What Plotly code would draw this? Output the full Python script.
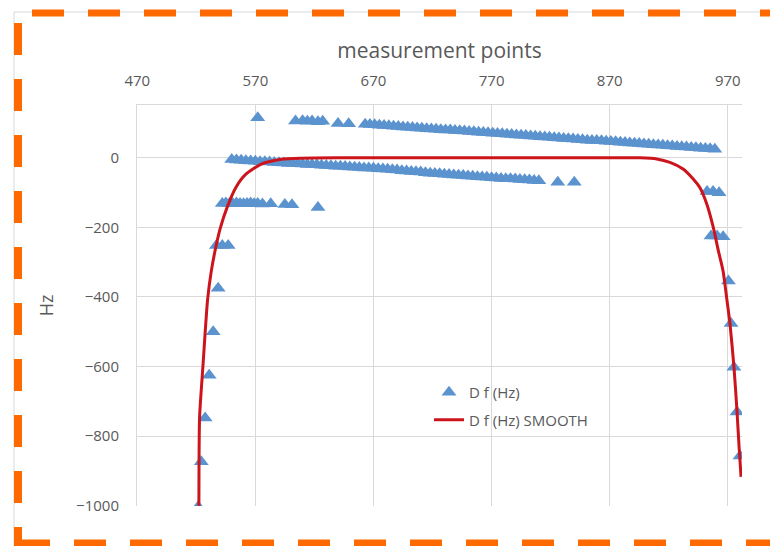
import plotly.graph_objects as go

# measured points, D f (Hz)
left_x = [521.6, 524.2, 527.5, 530.9, 534.3, 538.5, 537.0, 542.0, 547.0]
left_y = [-1003, -874, -748, -625, -500, -375, -252, -252, -252]

row130_x = [542, 545, 548, 551, 554, 557, 560, 563, 566, 569, 572, 576, 583, 595, 601, 623]
row130_y = [-131, -130, -131, -132, -130, -131, -132, -131, -130, -132, -131, -133, -132, -134, -135, -143]

upper_head_x = [572, 604, 610, 614, 618, 623, 627, 640, 649]
upper_head_y = [115, 106, 107, 105, 106, 104, 105, 99, 98]

upper_x = list(range(663, 960, 4))
upper_y = [97, 96, 95, 94, 93, 92, 91, 90, 89, 88, 87, 86, 85, 84, 83, 82, 81, 80, 80,
           79, 78, 77, 76, 75, 74, 73, 72, 71, 70, 69, 68, 67, 66, 65, 64, 63, 62,
           61, 60, 59, 58, 57, 56, 55, 54, 53, 52, 51, 50, 50, 49, 48, 47, 46, 45,
           44, 43, 42, 41, 40, 39, 38, 37, 36, 35, 34, 33, 32, 31, 30, 29, 28, 27,
           26, 25]

lower_x = list(range(550, 811, 4)) + [826, 840]
lower_y = [-5, -6, -7, -8, -9, -10, -11, -11, -12, -13, -14, -15, -16, -16, -17, -18,
           -19, -19, -20, -21, -22, -23, -24, -24, -25, -26, -27, -28, -29, -29, -30,
           -31, -32, -33, -34, -35, -37, -38, -39, -40, -41, -43, -44, -45, -46, -47,
           -48, -49, -50, -51, -52, -53, -54, -55, -56, -57, -58, -59, -60, -60, -61,
           -62, -63, -64, -65, -66, -70, -70]

right_x = [952.4, 957.5, 962.6, 955.8, 960.9, 966.0, 970.5, 972.7, 975.2, 977.8, 980.3]
right_y = [-97, -97, -100, -225, -225, -227, -354, -476, -602, -731, -857]

pts_x = left_x + row130_x + upper_head_x + upper_x + lower_x + right_x
pts_y = left_y + row130_y + upper_head_y + upper_y + lower_y + right_y

# smoothed series
smooth_x = [522.2, 522.3, 522.8, 525.6, 529.5, 532.5, 536.5, 540.5, 546.0, 553.5,
            562.0, 575.0, 592.0, 609.0, 640, 700, 760, 820, 880, 895.7, 909.8,
            921.0, 932.1, 940.5, 946.4, 952.1, 957.7, 961.9, 965.9, 969.3, 971.8, 975.2,
            977.8, 979.5, 981.2]
smooth_y = [-1000, -887, -744, -600, -410, -330, -257, -200, -143, -85,
            -47, -18, -4, -1, 0, 0, 0, 0, 0, 0, -3,
            -13, -32, -60, -86, -132, -200, -266, -324, -410, -476, -602,
            -730, -830, -917]

x_ticks = [470, 570, 670, 770, 870, 970]
y_ticks = [0, -200, -400, -600, -800, -1000]

# page has an 8px body margin, so the figure is 8px smaller
OFF = 8
W, H = 770, 538
L, R, T, B = 129, 36, 97, 40
pw, ph = W - L - R, H - T - B


def px(x):
    return (x - OFF - L) / pw


def py(y):
    return (H - B - (y - OFF)) / ph


grey = '#595959'
grid = '#d9d9d9'
orange = '#FF6A00'

fig = go.Figure()
fig.add_trace(go.Scatter(x=pts_x, y=pts_y, mode='markers', name='D f (Hz)',
                         legendgroup='a',
                         marker=dict(symbol='triangle-up', size=13, color='#5B93CF')))
fig.add_trace(go.Scatter(x=smooth_x, y=smooth_y, mode='lines', name='D f (Hz) SMOOTH',
                         legendgroup='b',
                         line=dict(color='#CC141C', width=3, shape='spline', smoothing=0.6)))

dash = '32px,24px'
fig.update_layout(
    width=W, height=H,
    margin=dict(l=L, r=R, t=T, b=B),
    plot_bgcolor='white', paper_bgcolor='white',
    font=dict(family='Open Sans, DejaVu Sans', color=grey, size=15),
    showlegend=True,
    legend=dict(x=px(429), y=py(376), xanchor='left', yanchor='top',
                bgcolor='rgba(0,0,0,0)', font=dict(size=15, color=grey),
                tracegroupgap=5),
    xaxis=dict(side='top', range=[469.8, 982], tickvals=x_ticks,
               showgrid=True, gridcolor=grid, gridwidth=1, zeroline=False,
               showline=True, linecolor=grid, ticks='', ticklabelstandoff=12,
               title=dict(text='measurement points', font=dict(size=21, color=grey),
                          standoff=5)),
    yaxis=dict(range=[-1001, 152], tickvals=y_ticks,
               showgrid=True, gridcolor=grid, gridwidth=1, zeroline=False,
               showline=True, linecolor=grid, ticks='', ticklabelstandoff=14,
               title=dict(text='Hz', font=dict(size=18, color=grey), standoff=17)),
    shapes=[
        dict(type='rect', xref='paper', yref='paper', x0=px(14), x1=px(800),
             y0=py(560), y1=py(12), line=dict(color=grid, width=1)),
        dict(type='line', xref='paper', yref='paper', x0=px(32), x1=px(800),
             y0=py(13), y1=py(13), line=dict(color=orange, width=7, dash=dash)),
        dict(type='line', xref='paper', yref='paper', x0=px(18), x1=px(18),
             y0=py(23), y1=py(570), line=dict(color=orange, width=8, dash=dash)),
        dict(type='line', xref='paper', yref='paper', x0=px(18), x1=px(800),
             y0=py(543), y1=py(543), line=dict(color=orange, width=7, dash=dash)),
    ],
)

fig.write_html('out.html')
